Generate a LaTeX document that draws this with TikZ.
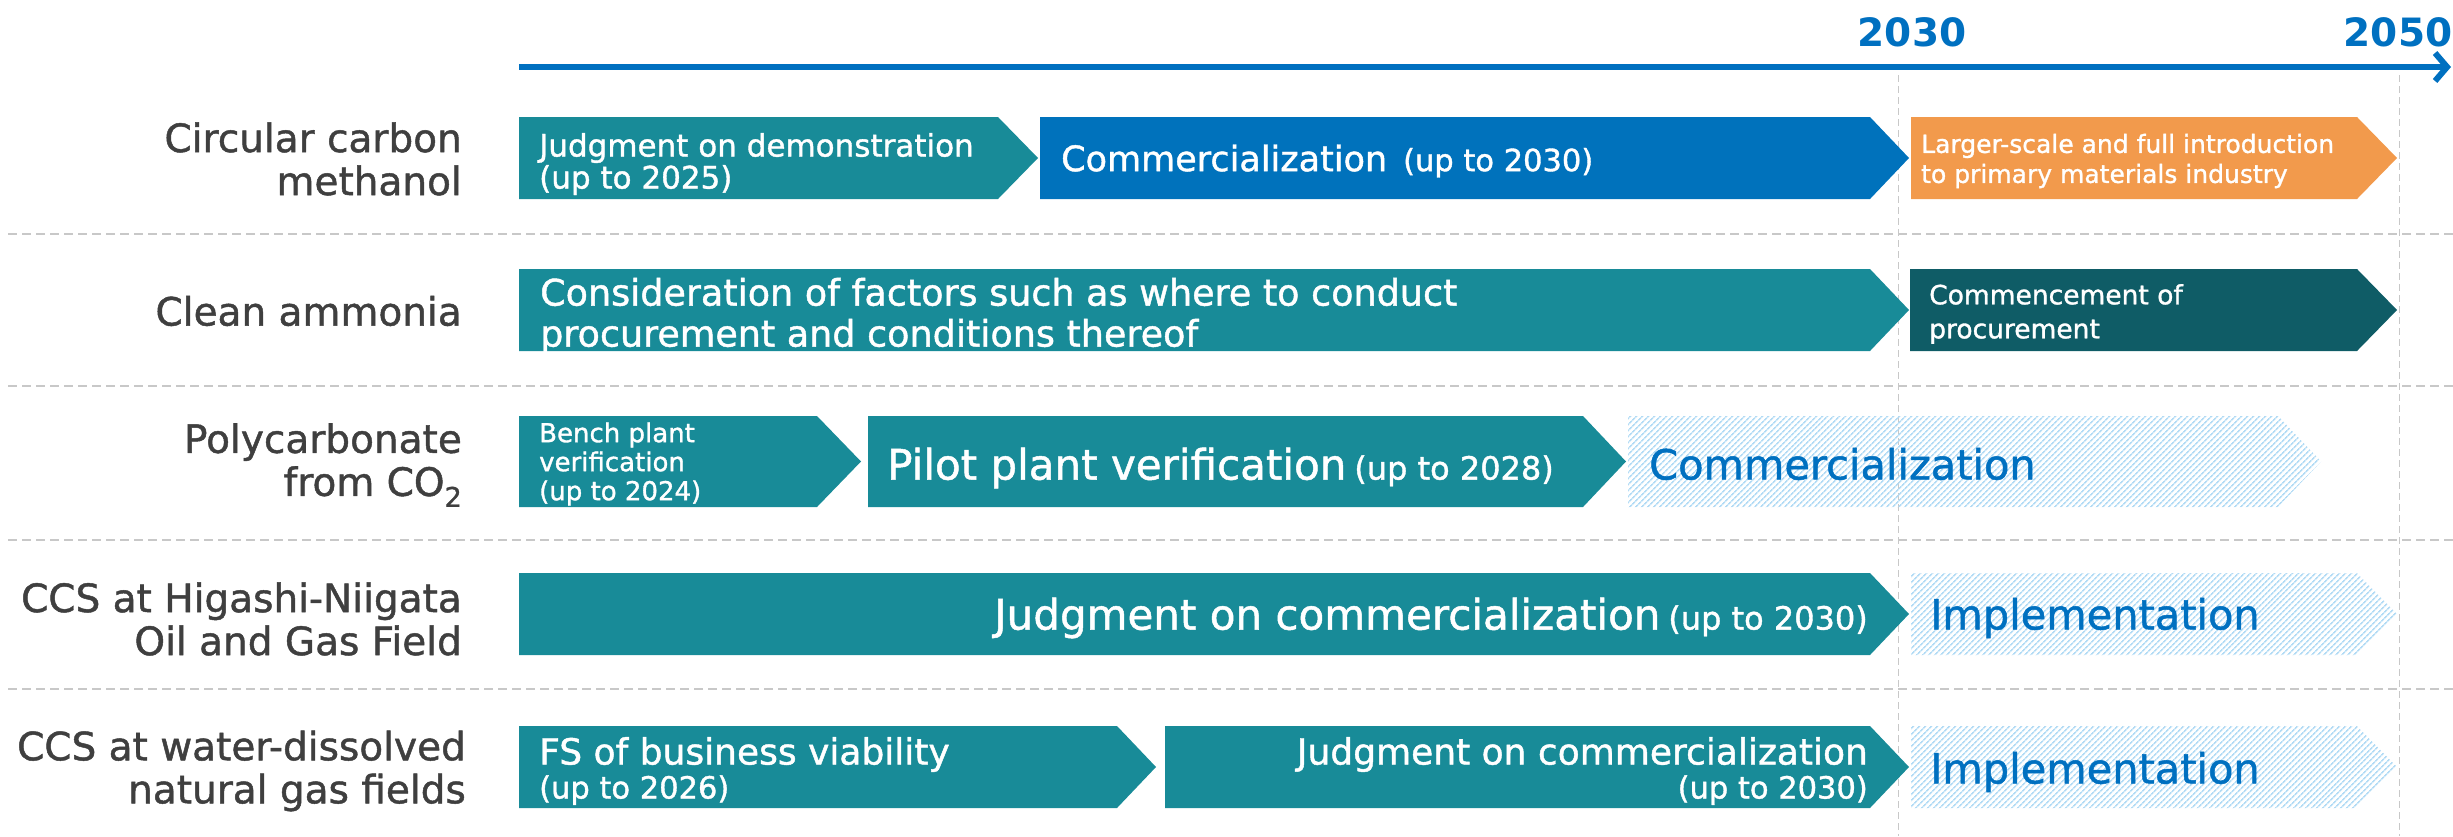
\documentclass[tikz,border=0pt]{standalone}
\usepackage{fontspec}
\setmainfont{DejaVu Sans}[FakeBold=1.2]
\newfontfamily\yearfont{DejaVu Sans Bold}
\usetikzlibrary{arrows.meta,patterns.meta}
\definecolor{tealA}{RGB}{24,139,152}
\definecolor{blueA}{RGB}{0,114,188}
\definecolor{orangeA}{RGB}{242,154,76}
\definecolor{darktealA}{RGB}{15,92,102}
\definecolor{axisblue}{RGB}{0,112,192}
\definecolor{textblue}{RGB}{0,112,192}
\definecolor{hatchblue}{RGB}{178,219,245}
\definecolor{labelgray}{RGB}{63,63,63}
\definecolor{sepgray}{RGB}{200,200,200}
\newcommand{\chevbox}[6]{\fill[#1] (#2,#5) -- (#3,#5) -- (#4,{(#5+#6)/2}) -- (#3,#6) -- (#2,#6) -- cycle;}
\newcommand{\fs}[2]{\fontsize{#1bp}{#2bp}\selectfont}
\tikzset{
  lbl/.style={anchor=east, align=right, text=labelgray, inner sep=0pt, font=\fs{39}{43}},
  wtxt/.style={text=white, inner sep=0pt, anchor=west, align=left},
  btxt/.style={text=textblue, inner sep=0pt, anchor=west, font=\fs{41.5}{48}},
  yeartxt/.style={text=axisblue, inner sep=0pt, font=\yearfont\fs{39}{44}},
  sepline/.style={draw=sepgray, line width=1.6bp, dash pattern=on 9bp off 5bp},
  vline/.style={draw=sepgray, line width=1bp, dash pattern=on 7bp off 4bp},
  hatch/.style={pattern={Lines[angle=45,distance=4pt,line width=1.7pt]}, pattern color=hatchblue},
}
\begin{document}
\begin{tikzpicture}[x=1bp,y=-1bp]
\useasboundingbox (0,0) rectangle (2453,836);
% vertical guide lines
\coordinate (v1a) at (1898,75); \coordinate (v1b) at (1898,836);
\coordinate (v2a) at (2399,75); \coordinate (v2b) at (2399,836);
\draw[vline] (v1a) -- (v1b);
\draw[vline] (v2a) -- (v2b);
% separators
\foreach \yy/\nm in {234/s1,386/s2,540/s3,689/s4}{
  \coordinate (\nm a) at (8,\yy); \coordinate (\nm b) at (2453,\yy);
  \draw[sepline] (\nm a) -- (\nm b);
}
% axis
\coordinate (ax0) at (519,67); \coordinate (ax1) at (2451,67);
\draw[line width=6bp, axisblue, -{Straight Barb[length=12bp,width=28bp]}] (ax0) -- (ax1);
\node[yeartxt] (y2030) at (1912,32) {2030};
\node[yeartxt] (y2050) at (2398,32) {2050};
% row 1
\chevbox{tealA}{519}{998}{1038}{117}{199}
\fill[blueA] (1040,117) -- (1870,117) -- (1909,158) -- (1870,199) -- (1040,199) -- cycle;
\chevbox{orangeA}{1911}{2357}{2397}{117}{199}
% row 2
\chevbox{tealA}{519}{1870}{1909}{269}{351}
\chevbox{darktealA}{1910}{2357}{2397}{269}{351}
% row 3
\chevbox{tealA}{519}{817}{861}{416}{507}
\chevbox{tealA}{868}{1583}{1626}{416}{507}
\chevbox{hatch}{1628}{2278}{2321}{416}{507}
% row 4
\chevbox{tealA}{519}{1870}{1909}{573}{655}
\chevbox{hatch}{1911}{2357}{2397}{573}{655}
% row 5
\chevbox{tealA}{519}{1117}{1156}{726}{808}
\chevbox{tealA}{1165}{1870}{1909}{726}{808}
\chevbox{hatch}{1911}{2357}{2397}{726}{808}
% labels
\node[lbl] (l1) at (462,159) {Circular carbon\\methanol};
\node[lbl] (l2) at (462,311) {Clean ammonia};
\node[lbl] (l3) at (462,465) {Polycarbonate\hspace{12bp}\\from CO\raisebox{-0.28em}{\fs{27}{27}2}};
\node[lbl] (l4) at (462,619) {CCS at Higashi-Niigata\\Oil and Gas Field};
\node[lbl] (l5) at (466,771) {CCS at water-dissolved\\natural gas fields};
% row 1 texts
\node[wtxt, font=\fs{31}{32}] (t11) at (539,164) {Judgment on demonstration\\(up to 2025)};
\node[wtxt, font=\fs{35}{40}] (t12) at (1061,161) {Commercialization\hspace{16bp}{\fs{30.5}{34}(up to 2030)}};
\node[wtxt, font=\fs{25}{30}] (t13) at (1921,161) {Larger-scale and full introduction\\to primary materials industry};
% row 2 texts
\node[wtxt, font=\fs{36.5}{41}] (t21) at (540,316) {Consideration of factors such as where to conduct\\procurement and conditions thereof};
\node[wtxt, font=\fs{26.5}{34}] (t22) at (1929,314) {Commencement of\\procurement};
% row 3 texts
\node[wtxt, font=\fs{26}{29}] (t31) at (539,464) {Bench plant\\verification\\(up to 2024)};
\node[wtxt, font=\fs{42}{48}] (t32) at (887,468) {Pilot plant verification\hspace{8bp}{\fs{32}{36}(up to 2028)}};
\node[btxt] (t33) at (1649,464) {Commercialization};
% row 4 texts
\node[wtxt, anchor=east, font=\fs{42}{48}] (t41) at (1868,618) {Judgment on commercialization\hspace{8bp}{\fs{32}{36}(up to 2030)}};
\node[btxt] (t42) at (1930,618) {Implementation};
% row 5 texts
\node[wtxt, font=\fs{36}{34}] (t51) at (539,771) {FS of business viability\\{\fs{30.5}{34}(up to 2026)}};
\node[wtxt, anchor=east, align=right, font=\fs{36}{34}] (t52) at (1868,771) {Judgment on commercialization\\{\fs{30.5}{34}(up to 2030)}};
\node[btxt] (t53) at (1930,772) {Implementation};
\end{tikzpicture}
\end{document}
